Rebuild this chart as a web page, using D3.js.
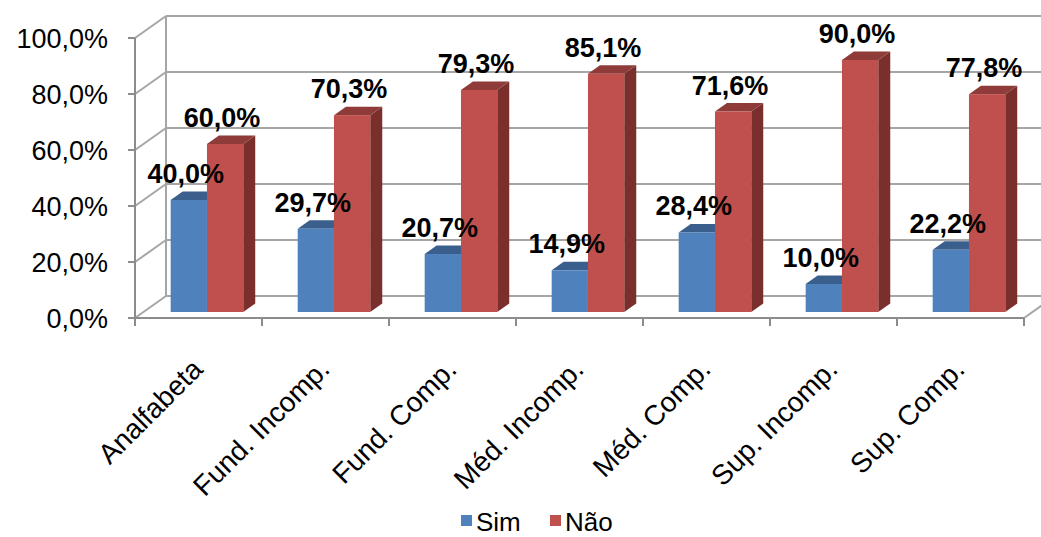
<!DOCTYPE html>
<html>
<head>
<meta charset="utf-8">
<script src="https://cdn.jsdelivr.net/npm/d3@7"></script>
<style>
  body { margin: 0; background: #fff; }
  svg { display: block; font-family: "Liberation Sans", Arial, sans-serif; }
</style>
</head>
<body>
<div id="chart"></div>
<script>
// Data
const categories = ["Analfabeta", "Fund. Incomp.", "Fund. Comp.", "Méd. Incomp.", "Méd. Comp.", "Sup. Incomp.", "Sup. Comp."];
const seriesNames = ["Sim", "Não"];
const simValues = [0.400, 0.297, 0.207, 0.149, 0.284, 0.100, 0.222];
const naoValues = [0.600, 0.703, 0.793, 0.851, 0.716, 0.900, 0.778];
const yTicks = [0, 0.2, 0.4, 0.6, 0.8, 1.0];

const W = 1041, H = 537;

// colours: front, top, side
const colors = {
    "Sim": {front: "#4F81BD", top: "#3A5F8D", side: "#2F4D73"},
    "Não": {front: "#C0504D", top: "#8E3B39", side: "#7A2F2D"}
};

const svg = d3.select("#chart").append("svg")
    .attr("width", W)
    .attr("height", H);

// Front plane scales
const x = d3.scaleBand()
    .domain(categories)
    .range([135, 1024])
    .paddingInner(0)
    .paddingOuter(0);

const x1 = d3.scaleBand()
    .domain(seriesNames)
    .range([0, x.bandwidth()])
    .paddingInner(0)
    .paddingOuter(0.75);

const y = d3.scaleLinear()
    .domain([0, 1])
    .range([318, 38]);

// depth vector (full depth of the plot box)
const depth = {dx: 31, dy: -22};
const proj = (px, py, f) => [px + f * depth.dx, py + f * depth.dy];

const gridColor = "#A6A6A6";
const axisColor = "#8C8C8C";

// Walls: gridlines on left wall + back wall
const xLeft = x.range()[0], xRight = x.range()[1];
const grid = svg.append("g");
yTicks.forEach(t => {
    const [bx, by] = proj(xLeft, y(t), 1);
    const [ex] = proj(xRight, y(t), 1);
    grid.append("line")
        .attr("x1", xLeft).attr("y1", y(t))
        .attr("x2", bx).attr("y2", by)
        .attr("stroke", gridColor).attr("stroke-width", 2);
    grid.append("line")
        .attr("x1", bx).attr("y1", by)
        .attr("x2", ex).attr("y2", by)
        .attr("stroke", gridColor).attr("stroke-width", 2);
});
// back-left vertical edge
const [blx, bly0] = proj(xLeft, y(0), 1);
const [, bly1] = proj(xLeft, y(1), 1);
grid.append("line")
    .attr("x1", blx).attr("y1", bly0)
    .attr("x2", blx).attr("y2", bly1)
    .attr("stroke", gridColor).attr("stroke-width", 2);
// floor right edge
const [frx, fry] = proj(xRight, y(0), 1);
grid.append("line")
    .attr("x1", xRight).attr("y1", y(0))
    .attr("x2", frx).attr("y2", fry)
    .attr("stroke", gridColor).attr("stroke-width", 2);

// Axes (front)
const axes = svg.append("g");
axes.append("line")
    .attr("x1", xLeft).attr("y1", y(0))
    .attr("x2", xLeft).attr("y2", y(1))
    .attr("stroke", axisColor).attr("stroke-width", 2);
axes.append("line")
    .attr("x1", xLeft).attr("y1", y(0))
    .attr("x2", xRight).attr("y2", y(0))
    .attr("stroke", axisColor).attr("stroke-width", 2);

const fmt = v => d3.format(".1f")(v * 100).replace(".", ",") + "%";

yTicks.forEach(t => {
    axes.append("line")
        .attr("x1", xLeft - 7).attr("y1", y(t))
        .attr("x2", xLeft).attr("y2", y(t))
        .attr("stroke", axisColor).attr("stroke-width", 2);
    axes.append("text")
        .attr("x", 108)
        .attr("y", y(t))
        .attr("dy", "0.36em")
        .attr("text-anchor", "end")
        .style("font-size", "27px")
        .attr("fill", "#000")
        .text(fmt(t));
});

// x tick marks at band boundaries
categories.concat([null]).forEach(c => {
    const tx = c === null ? xRight : x(c);
    axes.append("line")
        .attr("x1", tx).attr("y1", y(0))
        .attr("x2", tx).attr("y2", y(0) + 8)
        .attr("stroke", axisColor).attr("stroke-width", 2);
});

// x labels rotated
categories.forEach(c => {
    const cx = x(c) + x.bandwidth() / 2 - 8;
    const cy = 357;
    axes.append("text")
        .attr("transform", `translate(${cx},${cy}) rotate(-45)`)
        .attr("text-anchor", "end")
        .attr("dy", "0.7em")
        .style("font-size", "28px")
        .attr("fill", "#000")
        .text(c);
});

// Bars (3D)
const f0 = 0.273, f1 = 0.66;
const bars = svg.append("g");
const rows = categories.map((c, i) => ({cat: c, Sim: simValues[i], "Não": naoValues[i]}));

rows.forEach(d => {
    seriesNames.forEach(s => {
        const v = d[s];
        const xa = x(d.cat) + x1(s), xb = xa + x1.bandwidth();
        const y0 = y(0), yv = y(v);
        const A = proj(xa, yv, f0), B = proj(xb, yv, f0);
        const C = proj(xb, yv, f1), D = proj(xa, yv, f1);
        const E = proj(xb, y0, f0), F = proj(xb, y0, f1);
        const A0 = proj(xa, y0, f0);
        // side face
        bars.append("polygon")
            .attr("points", [B, C, F, E].map(p => p.join(",")).join(" "))
            .attr("fill", colors[s].side);
        // top face
        bars.append("polygon")
            .attr("points", [A, B, C, D].map(p => p.join(",")).join(" "))
            .attr("fill", colors[s].top);
        // front face
        bars.append("rect")
            .attr("x", A[0]).attr("y", A[1])
            .attr("width", xb - xa)
            .attr("height", A0[1] - A[1])
            .attr("fill", colors[s].front);
    });
});

// Data labels
const labels = svg.append("g");
rows.forEach(d => {
    seriesNames.forEach(s => {
        const v = d[s];
        const xa = x(d.cat) + x1(s);
        const [fx, fy] = proj(xa + x1.bandwidth() / 2, y(v), f0);
        labels.append("text")
            .attr("x", fx - 3)
            .attr("y", fy - 17)
            .attr("text-anchor", "middle")
            .style("font-size", "27px")
            .style("font-weight", "bold")
            .attr("fill", "#000")
            .text(fmt(v));
    });
});

// Legend
const legend = svg.append("g").attr("transform", "translate(461,515)");
const legendItems = [{name: "Sim", x: 0}, {name: "Não", x: 89}];
legendItems.forEach(it => {
    legend.append("rect")
        .attr("x", it.x).attr("y", 0)
        .attr("width", 11).attr("height", 11)
        .attr("fill", colors[it.name].front);
    legend.append("text")
        .attr("x", it.x + 15)
        .attr("y", 16)
        .style("font-size", "26px")
        .attr("fill", "#000")
        .text(it.name);
});
</script>
</body>
</html>
